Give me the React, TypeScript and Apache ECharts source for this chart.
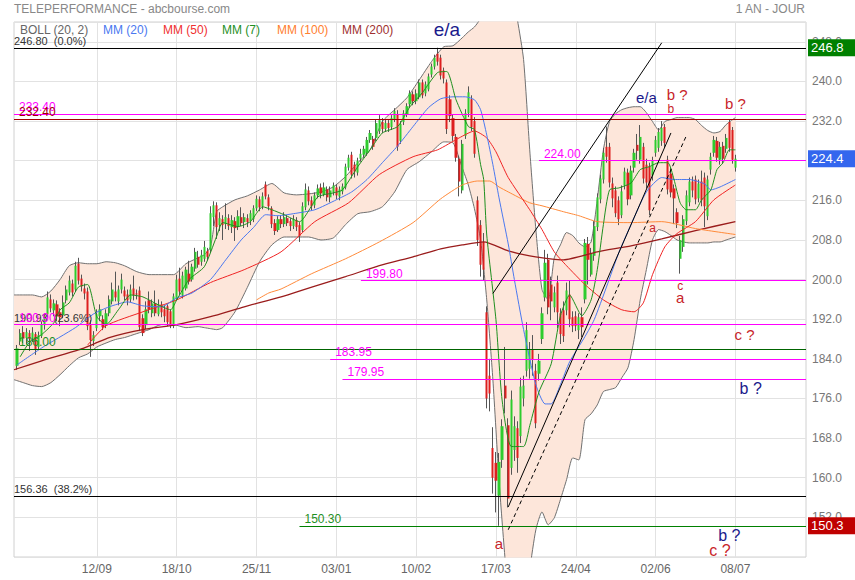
import React, { useEffect, useRef } from "react";
import * as echarts from "echarts";

// ---------- texts ----------
const TITLE = "TELEPERFORMANCE - abcbourse.com";
const PERIOD = "1 AN - JOUR";
const LEGEND: [string, string][] = [
  ["BOLL (20, 2)", "#666666"],
  ["MM (20)", "#4a78f0"],
  ["MM (50)", "#f03030"],
  ["MM (7)", "#1f8f1f"],
  ["MM (100)", "#ff8030"],
  ["MM (200)", "#a03030"],
];

// ---------- sessions (category axis) ----------
const FIRST_SESSION = [2019, 7, 6]; // 06/08/2019
const SESSION_COUNT = 259;
const HOLIDAYS = ["2019-12-25", "2019-12-26", "2020-01-01", "2020-04-10", "2020-04-13", "2020-05-01"];
const X_TICKS = ["12/09", "18/10", "25/11", "03/01", "10/02", "17/03", "24/04", "02/06", "08/07"];
const Y_MIN = 144;
const Y_MAX = 252;
const Y_STEP = 8;

// ---------- daily candles [open, close, low, high], first one on session 1 ----------
const CANDLE_START = 1;
const CANDLES: number[][] = [
  [182.6, 186.1, 181.8, 186.8], [187.5, 189.2, 186.8, 190.0], [189.4, 188.1, 187.2, 190.6], [188.2, 189.4, 186.9, 190.2], [189.2, 188.0, 185.6, 189.8],
  [188.1, 189.3, 187.4, 190.4], [189.0, 185.9, 184.8, 189.4], [186.4, 188.8, 186.0, 189.5], [188.6, 191.0, 188.2, 191.6], [190.8, 192.6, 189.9, 193.2],
  [193.0, 196.4, 192.4, 197.6], [196.0, 194.2, 193.4, 197.0], [193.8, 195.2, 192.6, 196.0], [195.0, 192.6, 191.6, 195.8], [193.4, 192.4, 190.6, 194.2],
  [192.8, 195.4, 192.2, 196.8], [195.8, 198.0, 195.2, 198.8], [197.4, 199.8, 196.8, 200.8], [199.2, 197.4, 196.6, 200.0], [198.0, 202.8, 197.6, 203.6],
  [203.2, 199.8, 199.0, 204.4], [200.2, 198.6, 197.6, 201.0], [198.2, 197.2, 196.0, 199.2], [197.6, 190.6, 189.8, 198.4], [190.8, 187.8, 184.4, 191.8],
  [187.6, 188.8, 186.6, 189.6], [190.2, 193.0, 189.6, 194.0], [192.6, 194.0, 191.6, 195.0], [192.0, 190.4, 189.8, 192.8], [190.8, 193.2, 190.2, 194.0],
  [193.2, 196.0, 192.6, 196.8], [195.6, 198.0, 195.0, 199.4], [197.6, 196.4, 195.6, 201.6], [195.6, 198.0, 194.8, 198.8], [198.0, 200.0, 197.2, 201.2],
  [197.8, 196.6, 195.8, 198.6], [197.0, 195.8, 194.8, 198.0], [196.0, 198.0, 195.4, 199.0], [198.2, 196.8, 195.8, 200.8], [197.2, 197.0, 196.0, 198.0],
  [197.8, 190.4, 189.6, 198.6], [192.2, 189.2, 188.6, 193.0], [190.8, 194.0, 190.0, 195.6], [195.8, 194.0, 193.2, 197.6], [193.2, 195.2, 192.4, 196.0],
  [195.2, 193.2, 192.6, 197.8], [193.0, 195.0, 192.6, 196.0], [195.0, 193.4, 192.4, 195.6], [194.0, 192.6, 191.4, 194.8], [194.6, 191.4, 190.6, 195.0],
  [193.6, 191.0, 190.2, 194.0], [190.6, 196.6, 190.2, 197.2], [196.2, 200.0, 195.8, 201.0], [200.2, 197.6, 196.8, 202.4], [196.8, 200.8, 196.2, 201.6],
  [198.2, 202.0, 197.8, 202.6], [201.2, 199.6, 199.0, 203.8], [200.0, 202.6, 199.6, 203.2], [202.2, 205.6, 201.6, 206.4], [204.6, 203.0, 202.4, 205.8],
  [203.6, 205.0, 202.8, 206.0], [204.2, 206.6, 203.6, 207.8], [205.8, 204.6, 203.8, 206.4], [206.0, 213.4, 205.4, 214.8], [212.6, 215.0, 210.8, 215.8],
  [215.0, 210.6, 208.2, 215.6], [211.0, 212.4, 209.8, 213.6], [212.2, 211.0, 208.0, 213.0], [211.2, 212.6, 210.2, 215.4], [212.4, 210.8, 210.0, 213.2],
  [210.6, 212.0, 209.4, 213.0], [211.8, 210.4, 207.8, 212.6], [210.6, 212.8, 210.0, 214.0], [212.6, 211.4, 210.8, 214.6], [211.6, 212.6, 210.4, 213.4],
  [212.4, 211.6, 210.6, 213.2], [211.8, 213.4, 211.0, 214.0], [212.2, 214.4, 211.6, 215.0], [214.4, 216.3, 213.8, 217.0], [216.2, 214.6, 213.8, 216.8],
  [214.8, 216.8, 214.2, 217.6], [219.2, 216.8, 216.2, 219.8], [216.6, 214.8, 214.0, 217.2], [214.4, 211.2, 210.4, 214.8], [211.4, 209.8, 209.0, 212.2],
  [210.0, 212.2, 209.6, 212.8], [212.2, 211.2, 210.4, 213.0], [211.2, 212.6, 210.6, 213.6], [212.4, 211.4, 210.8, 213.0], [211.8, 210.8, 209.8, 212.4],
  [210.8, 212.2, 210.2, 213.0], [212.0, 210.6, 209.8, 212.6], [211.0, 208.8, 207.6, 211.6], [210.0, 214.8, 209.6, 215.6], [214.6, 218.2, 214.0, 219.4],
  [218.0, 215.8, 215.0, 218.8], [216.0, 214.8, 214.0, 216.8], [215.0, 217.0, 214.4, 217.6], [217.0, 218.4, 216.4, 219.2], [218.6, 217.4, 216.4, 219.4],
  [217.2, 218.6, 216.8, 219.6], [218.2, 216.6, 215.8, 218.8], [216.6, 218.0, 215.6, 218.8], [217.6, 219.0, 217.0, 219.6], [218.6, 217.0, 216.2, 219.2],
  [216.8, 218.2, 216.0, 218.8], [217.8, 218.8, 217.2, 219.4], [218.6, 222.8, 218.2, 223.4], [222.6, 224.6, 222.0, 225.2], [225.2, 221.2, 220.4, 225.8],
  [223.2, 221.8, 220.6, 223.8], [221.6, 224.0, 221.0, 224.6], [224.4, 225.4, 223.8, 226.4], [225.2, 226.4, 224.6, 227.0], [225.6, 228.2, 225.0, 228.8],
  [228.2, 229.6, 227.6, 230.2], [228.4, 226.8, 226.2, 229.0], [228.6, 231.6, 228.0, 232.4], [230.0, 232.4, 229.4, 233.2], [231.8, 230.4, 229.6, 232.6],
  [230.4, 231.6, 229.8, 232.2], [231.6, 230.6, 229.8, 232.2], [230.8, 232.6, 230.2, 233.2], [232.4, 234.0, 231.8, 234.6], [233.4, 226.8, 226.0, 234.2],
  [228.0, 231.4, 227.4, 232.0], [231.8, 233.6, 231.2, 234.2], [233.4, 235.0, 232.8, 235.6], [235.4, 237.6, 234.8, 238.2], [237.4, 236.0, 235.2, 238.0],
  [236.0, 237.6, 235.4, 238.4], [236.8, 239.8, 236.4, 240.4], [239.8, 237.2, 236.6, 240.4], [237.6, 239.4, 237.0, 240.0], [238.4, 241.0, 238.0, 241.6],
  [241.4, 243.0, 240.8, 243.6], [243.0, 244.8, 242.4, 245.4], [245.6, 244.0, 243.2, 246.8], [244.8, 241.2, 240.4, 245.4], [242.2, 240.6, 239.6, 242.8],
  [239.8, 230.4, 229.4, 240.4], [236.4, 233.0, 231.8, 237.2], [232.6, 229.0, 228.0, 233.4], [228.8, 224.6, 223.8, 229.4], [224.4, 219.8, 216.8, 225.0],
  [218.0, 227.4, 217.4, 228.2], [229.0, 233.6, 228.4, 234.4], [233.6, 237.8, 232.8, 239.0], [236.4, 230.8, 230.0, 237.2], [232.0, 225.4, 224.6, 232.8],
  [216.0, 208.0, 206.8, 216.8], [211.0, 203.0, 200.6, 212.0], [207.6, 202.0, 199.8, 209.4], [193.4, 176.0, 174.0, 194.6], [180.6, 177.0, 173.4, 184.0],
  [166.0, 160.0, 156.8, 170.2], [163.0, 159.4, 153.0, 165.2], [156.4, 163.2, 150.3, 165.0], [163.6, 170.4, 162.0, 171.8], [178.6, 176.0, 173.0, 186.4],
  [170.6, 155.8, 154.0, 172.0], [162.0, 175.8, 160.6, 177.6], [165.6, 170.4, 163.4, 172.4], [170.0, 164.0, 161.0, 171.4], [168.4, 178.4, 167.0, 180.2],
  [176.0, 178.6, 174.4, 180.6], [181.6, 189.8, 180.4, 191.4], [182.0, 186.0, 180.0, 187.4], [186.0, 183.8, 180.6, 188.8], [181.6, 171.0, 170.0, 183.0],
  [181.0, 183.6, 179.6, 185.0], [188.0, 193.2, 187.0, 194.4], [196.4, 203.4, 195.6, 206.0], [204.0, 194.4, 193.0, 205.2], [199.0, 195.6, 191.8, 200.6],
  [194.4, 197.4, 193.4, 198.6], [199.4, 193.4, 190.2, 200.8], [193.2, 189.0, 187.0, 194.2], [193.8, 188.6, 187.4, 195.6], [193.8, 197.8, 192.8, 199.4],
  [197.0, 192.0, 190.4, 199.8], [192.4, 190.6, 189.4, 193.6], [192.6, 190.6, 189.6, 193.6], [189.8, 192.4, 188.0, 193.2], [192.4, 190.4, 188.4, 194.4],
  [196.0, 207.4, 195.2, 208.2], [207.2, 204.0, 199.0, 208.6], [201.0, 205.2, 200.6, 206.4], [204.8, 210.8, 203.8, 211.8], [210.6, 216.6, 209.8, 217.4],
  [216.2, 220.4, 215.4, 221.2], [220.2, 225.6, 219.4, 226.6], [226.8, 224.8, 223.6, 230.9], [226.8, 219.6, 218.6, 227.6], [219.4, 216.4, 214.6, 220.6],
  [218.0, 213.4, 212.6, 218.8], [216.0, 212.2, 211.0, 216.8], [213.0, 217.8, 212.4, 219.0], [219.0, 221.8, 218.2, 222.6], [221.6, 216.2, 215.0, 222.4],
  [217.0, 222.0, 216.2, 223.0], [222.6, 225.6, 221.6, 226.4], [227.2, 226.0, 224.2, 229.4], [224.2, 228.8, 223.4, 231.2], [226.8, 220.4, 219.4, 227.6],
  [223.2, 219.6, 218.4, 224.4], [222.8, 214.0, 213.0, 223.6], [221.0, 224.0, 220.0, 224.8], [225.6, 228.2, 224.8, 229.0], [226.6, 229.8, 225.8, 230.6],
  [228.0, 230.6, 227.0, 232.0], [230.8, 227.6, 226.6, 231.4], [224.2, 218.2, 217.2, 225.0], [221.4, 217.6, 216.6, 222.6], [218.4, 216.4, 211.2, 219.2],
  [213.6, 211.4, 210.4, 214.4], [204.2, 208.0, 201.2, 208.8], [206.6, 212.2, 205.6, 213.0], [211.8, 217.0, 211.0, 218.0], [215.6, 219.8, 214.8, 220.6],
  [219.8, 218.0, 216.6, 220.8], [220.2, 216.2, 215.2, 221.0], [216.4, 219.4, 215.6, 220.2], [219.8, 216.0, 214.8, 222.0], [220.6, 214.8, 210.6, 221.6],
  [212.8, 220.2, 212.0, 221.0], [222.2, 224.8, 221.2, 225.6], [225.6, 228.2, 224.8, 229.0], [228.0, 224.6, 223.8, 228.8], [224.2, 226.8, 223.2, 227.8],
  [227.0, 224.4, 223.4, 227.8], [226.4, 228.6, 225.6, 229.4], [231.8, 226.6, 225.8, 232.4], [230.2, 224.2, 223.4, 230.8], [222.6, 224.4, 221.8, 225.2],
];

// ---------- Bollinger (20, 2), read at these sessions ----------
const BOLL_AT = [0, 3, 6, 9, 12, 15, 18, 21, 24, 27, 30, 33, 36, 40, 44, 48, 52, 56, 60, 62, 64, 66, 68, 72, 76, 80, 84, 88, 92, 96,
  100, 104, 108, 112, 116, 120, 124, 128, 132, 136, 140, 143, 146, 148, 150, 152, 154, 156, 158, 160, 162, 164, 166, 168, 170, 172,
  174, 176, 178, 180, 182, 184, 186, 188, 190, 192, 194, 196, 198, 200, 202, 204, 206, 208, 210, 212, 214, 216, 218, 220, 222, 224,
  226, 228, 230, 232, 235];
const BOLL_UP = [196.9, 196.9, 196.9, 196.5, 197.7, 200.0, 202.8, 203.4, 203.2, 203.2, 203.6, 203.4, 202.8, 201.6, 201.0, 201.0, 201.0,
  203.2, 204.4, 205.0, 206.6, 213.7, 214.7, 216.1, 216.9, 218.1, 219.4, 217.5, 217.1, 217.3, 217.7, 218.7, 220.8, 223.6, 226.2, 231.9,
  234.3, 236.7, 240.3, 244.0, 247.0, 247.2, 248.8, 250.0, 251.0, 252.7, 255.5, 258.5, 260.5, 260.5, 258.5, 252.4, 244.4, 226.2, 210.1,
  198.0, 195.9, 204.4, 207.0, 209.5, 208.9, 207.4, 206.6, 207.6, 216.1, 226.2, 231.9, 233.5, 234.3, 234.7, 234.9, 234.9, 233.7, 231.9,
  230.2, 231.9, 232.3, 232.7, 232.7, 232.7, 232.3, 231.1, 230.1, 229.6, 229.9, 231.3, 232.7];
const BOLL_LOW = [179.8, 179.2, 178.6, 178.4, 179.2, 180.8, 182.6, 184.2, 185.0, 186.4, 187.2, 187.9, 188.3, 189.1, 189.9, 190.9, 190.9,
  190.3, 190.5, 190.3, 190.1, 189.9, 190.3, 193.5, 198.4, 203.6, 207.0, 208.6, 208.6, 208.6, 208.0, 208.4, 211.1, 213.3, 213.7, 214.7,
  217.7, 222.2, 223.8, 225.8, 227.8, 227.6, 222.6, 219.1, 214.3, 208.0, 195.9, 179.8, 159.6, 143.4, 131.3, 127.3, 131.3, 141.4, 149.5,
  153.1, 150.5, 151.9, 155.6, 159.6, 164.0, 163.6, 171.7, 172.9, 174.7, 177.4, 177.8, 178.2, 180.2, 182.2, 187.9, 195.9, 202.0, 208.0,
  210.1, 209.7, 208.9, 208.0, 207.6, 207.4, 207.4, 207.4, 207.4, 207.6, 207.6, 208.0, 208.6];

// ---------- moving averages [session, value] ----------
const MM7: number[][] = [[2, 184.4], [5, 187.3], [9, 188.9], [13, 191.3], [15, 193.9], [18, 195.3], [21, 198.5], [24, 199.0], [27, 192.5],
  [30, 190.9], [34, 193.9], [38, 196.9], [42, 196.5], [47, 194.9], [51, 193.9], [53, 195.9], [57, 200.0], [62, 202.6], [66, 208.7],
  [68, 211.5], [73, 210.7], [77, 211.7], [81, 214.7], [84, 214.1], [88, 213.1], [93, 211.7], [99, 216.7], [104, 217.5], [107, 218.1],
  [112, 222.8], [116, 226.2], [120, 229.6], [125, 230.9], [129, 234.9], [133, 237.7], [138, 241.8], [141, 242.0], [144, 236.3],
  [148, 230.9], [150, 230.3], [152, 223.2], [153, 220.2], [154, 209.0], [157, 191.9], [159, 175.7], [162, 166.3], [166, 166.3],
  [168, 170.5], [171, 177.3], [175, 183.0], [178, 192.7], [181, 196.9], [185, 192.7], [188, 195.9], [190, 202.0], [192, 211.1],
  [194, 218.1], [197, 218.5], [201, 219.5], [204, 222.2], [207, 222.8], [210, 223.6], [213, 223.6], [215, 220.2], [217, 215.5],
  [219, 214.1], [222, 214.1], [224, 216.1], [227, 218.1], [229, 222.2], [231, 223.6], [233, 226.2], [235, 226.2]];
const MM20: number[][] = [[1, 182.8], [9, 186.2], [20, 190.3], [26, 193.1], [31, 194.5], [37, 195.5], [42, 194.7], [48, 194.5],
  [53, 196.3], [58, 197.3], [64, 200.0], [69, 204.0], [74, 208.0], [78, 210.5], [82, 213.1], [86, 212.9], [91, 213.3], [98, 214.1],
  [105, 216.1], [110, 217.7], [115, 220.2], [120, 223.6], [125, 227.0], [130, 230.9], [135, 234.7], [139, 236.5], [143, 236.9],
  [147, 236.9], [150, 236.3], [152, 234.3], [154, 229.2], [156, 223.2], [158, 216.5], [161, 207.2], [163, 200.0], [166, 189.9],
  [170, 178.8], [173, 174.9], [175, 174.9], [178, 178.8], [181, 183.4], [186, 188.5], [189, 191.9], [193, 198.5], [197, 205.4],
  [202, 212.5], [206, 217.7], [211, 220.6], [215, 220.2], [220, 220.2], [225, 219.3], [227, 218.1], [230, 218.7], [235, 220.2]];
const MM50: number[][] = [[24, 186.8], [30, 190.7], [42, 193.5], [53, 195.9], [64, 199.4], [75, 202.0], [87, 205.6], [98, 211.7],
  [109, 215.5], [119, 221.2], [130, 224.8], [138, 226.2], [145, 228.6], [150, 230.0], [154, 228.6], [157, 225.8], [161, 220.6],
  [168, 214.1], [172, 210.1], [176, 205.6], [180, 202.8], [186, 199.0], [192, 195.9], [198, 193.9], [202, 193.5], [205, 195.3],
  [208, 201.0], [212, 206.6], [216, 209.3], [222, 211.7], [228, 216.1], [235, 219.1]];
const MM100: number[][] = [[79, 195.9], [83, 197.3], [87, 198.1], [97, 201.2], [108, 204.2], [119, 207.6], [130, 211.5], [139, 216.3],
  [146, 219.1], [151, 219.9], [155, 219.9], [158, 218.7], [161, 217.7], [168, 215.5], [172, 214.9], [179, 213.7], [184, 212.9],
  [190, 211.7], [201, 211.5], [211, 211.7], [222, 210.3], [235, 209.1]];
const MM200: number[][] = [[0, 181.8], [9, 183.6], [21, 185.8], [26, 187.0], [31, 188.3], [42, 189.9], [53, 190.9], [64, 192.5],
  [75, 194.5], [87, 196.5], [97, 198.5], [108, 200.6], [119, 202.8], [130, 204.6], [139, 206.2], [146, 207.0], [153, 207.6],
  [161, 205.8], [168, 204.8], [179, 204.0], [190, 205.6], [201, 206.8], [211, 208.2], [222, 209.9], [235, 211.7]];

// ---------- horizontal levels ----------
const LEVELS = [
  { value: 246.8, from: 0, color: "#000000", text: "246.80  (0.0%)", textColor: "#333333", fib: true },
  { value: 233.4, from: 0, color: "#ff00ff", text: "233.40", textColor: "#ff00ff", fib: false },
  { value: 232.4, from: 0, color: "#a00000", text: "232.40", textColor: "#a00000", fib: false },
  { value: 224.0, from: 171, color: "#ff00ff", text: "224.00", textColor: "#ff00ff", fib: false },
  { value: 199.8, from: 113, color: "#ff00ff", text: "199.80", textColor: "#ff00ff", fib: false },
  { value: 190.93, from: 0, color: "#000000", text: "190.93  (23.6%)", textColor: "#333333", fib: true },
  { value: 190.9, from: 0, color: "#ff00ff", text: "190.90", textColor: "#ff00ff", fib: false },
  { value: 186.0, from: 0, color: "#006400", text: "186.00", textColor: "#1f8f1f", fib: false },
  { value: 183.95, from: 103, color: "#ff00ff", text: "183.95", textColor: "#ff00ff", fib: false },
  { value: 179.95, from: 107, color: "#ff00ff", text: "179.95", textColor: "#ff00ff", fib: false },
  { value: 156.36, from: 0, color: "#000000", text: "156.36  (38.2%)", textColor: "#333333", fib: true },
  { value: 150.3, from: 93, color: "#008000", text: "150.30", textColor: "#1f8f1f", fib: false },
];

// ---------- trend lines ----------
const TRENDS = [
  { from: [156, 197.2], to: [211, 247.8], dashed: false },
  { from: [161, 154.1], to: [214, 229.6], dashed: false },
  { from: [161, 149.5], to: [219, 229.0], dashed: true },
];

// ---------- right-axis price tags ----------
const TAGS = [
  { value: 246.8, color: "#008000" },
  { value: 224.4, color: "#3366ee" },
  { value: 150.3, color: "#c00000" },
];

// ---------- Elliott wave notes ----------
const NAVY = "#1a1a8c";
const WAVE_RED = "#c8242a";
const WAVES = [
  { text: "e/a", at: 141, value: 250.4, color: NAVY, size: 19 },
  { text: "e/a", at: 206, value: 236.7, color: NAVY, size: 15 },
  { text: "b ?", at: 216, value: 237.3, color: WAVE_RED, size: 15 },
  { text: "b", at: 214, value: 234.5, color: WAVE_RED, size: 12 },
  { text: "b ?", at: 235, value: 235.5, color: WAVE_RED, size: 15 },
  { text: "a", at: 208, value: 210.5, color: WAVE_RED, size: 12 },
  { text: "c", at: 217, value: 198.8, color: WAVE_RED, size: 12 },
  { text: "a", at: 217, value: 196.3, color: WAVE_RED, size: 15 },
  { text: "c ?", at: 238, value: 188.9, color: WAVE_RED, size: 15 },
  { text: "b ?", at: 240, value: 178.0, color: NAVY, size: 16 },
  { text: "b ?", at: 233, value: 148.3, color: NAVY, size: 16 },
  { text: "c ?", at: 230, value: 145.3, color: WAVE_RED, size: 16 },
  { text: "a", at: 158, value: 146.7, color: WAVE_RED, size: 15 },
];

const FONT = '"Liberation Sans", Arial, sans-serif';

function buildSessions(): string[] {
  const out: string[] = [];
  const d = new Date(Date.UTC(FIRST_SESSION[0], FIRST_SESSION[1], FIRST_SESSION[2]));
  while (out.length < SESSION_COUNT) {
    const iso = d.toISOString().slice(0, 10);
    const wd = d.getUTCDay();
    if (wd !== 0 && wd !== 6 && HOLIDAYS.indexOf(iso) < 0) out.push(iso);
    d.setUTCDate(d.getUTCDate() + 1);
  }
  return out;
}
const ddmm = (iso: string) => iso.slice(8, 10) + "/" + iso.slice(5, 7);

export default function App() {
  const ref = useRef<HTMLDivElement>(null);

  useEffect(() => {
    if (!ref.current) return;
    const chart = echarts.init(ref.current, undefined, { renderer: "svg" });
    const sessions = buildSessions();
    const last = sessions.length - 1;
    const tickSet = new Set(X_TICKS);
    const isTick = (_i: number, v: string) => tickSet.has(ddmm(v));

    const ohlc = sessions.map((_, i) => {
      const c = CANDLES[i - CANDLE_START];
      return c ? c : "-";
    });
    const wickData = ohlc.map((c: any) => (c === "-" ? "-" : [c[0], c[1], c[2], c[3]]));
    const bodyData = ohlc.map((c: any) =>
      c === "-" ? "-" : [c[0], c[1], Math.min(c[0], c[1]), Math.max(c[0], c[1])]
    );

    const maLine = (data: number[][], color: string, width: number) => ({
      type: "line",
      data,
      symbol: "none",
      smooth: 0.2,
      silent: true,
      lineStyle: { color, width },
      z: 4,
    });

    const markData: any[] = [];
    LEVELS.forEach((l) => {
      markData.push([
        {
          coord: [l.from, l.value],
          lineStyle: { color: l.color, width: 1, type: "solid" },
          label: {
            show: true,
            position: "insideStartTop",
            formatter: l.text,
            color: l.textColor,
            fontSize: l.fib ? 11 : 12,
            fontFamily: FONT,
            distance: [l.fib ? 0 : 5, 1],
          },
        },
        { coord: [last, l.value] },
      ]);
    });
    TRENDS.forEach((t) => {
      markData.push([
        {
          coord: t.from,
          lineStyle: { color: "#000000", width: 1, type: t.dashed ? [4, 3] : "solid" },
          label: { show: false },
        },
        { coord: t.to },
      ]);
    });

    const option: any = {
      animation: false,
      textStyle: { fontFamily: FONT },
      grid: { left: 14, right: 49, top: 22, bottom: 23, show: true, borderColor: "#d0d0d0", borderWidth: 1 },
      xAxis: {
        type: "category",
        data: sessions,
        boundaryGap: false,
        axisLine: { show: false },
        axisTick: { show: false },
        axisLabel: {
          interval: isTick,
          formatter: (v: string) => ddmm(v),
          color: "#666666",
          fontSize: 12,
          margin: 6,
        },
        splitLine: { show: true, interval: isTick, lineStyle: { color: "#e2e2e2", width: 1 } },
      },
      yAxis: {
        type: "value",
        position: "right",
        min: Y_MIN,
        max: Y_MAX,
        interval: Y_STEP,
        axisLine: { show: false },
        axisTick: { show: false },
        axisLabel: {
          formatter: (v: number) => v.toFixed(1),
          color: "#777777",
          fontSize: 12,
          margin: 6,
          showMinLabel: false,
          showMaxLabel: false,
        },
        splitLine: { show: true, lineStyle: { color: "#e2e2e2", width: 1 } },
      },
      series: [
        {
          type: "line",
          data: BOLL_AT.map((s, k) => [s, BOLL_LOW[k]]),
          stack: "boll",
          symbol: "none",
          smooth: 0.2,
          silent: true,
          lineStyle: { color: "#707070", width: 1 },
          z: 1,
        },
        {
          type: "line",
          data: BOLL_AT.map((s, k) => [s, BOLL_UP[k] - BOLL_LOW[k]]),
          stack: "boll",
          symbol: "none",
          smooth: 0.2,
          silent: true,
          lineStyle: { color: "#707070", width: 1 },
          areaStyle: { color: "#fde6da", opacity: 1 },
          z: 1,
        },
        {
          type: "candlestick",
          data: wickData,
          barWidth: 0.6,
          silent: true,
          itemStyle: { color: "#555555", color0: "#555555", borderColor: "#555555", borderColor0: "#555555", borderWidth: 1 },
          z: 2,
        },
        {
          type: "candlestick",
          data: bodyData,
          barWidth: 2.7,
          silent: true,
          itemStyle: { color: "#2ecc2e", color0: "#dd1f1f", borderColor: "#2ecc2e", borderColor0: "#dd1f1f", borderWidth: 0 },
          z: 3,
        },
        maLine(MM200, "#9a1c1c", 1.3),
        maLine(MM100, "#ff8a3a", 1),
        maLine(MM50, "#f02424", 1),
        maLine(MM20, "#4a78f0", 1),
        maLine(MM7, "#1f8f1f", 1),
        {
          type: "line",
          data: [],
          silent: true,
          z: 5,
          markLine: { silent: true, symbol: ["none", "none"], animation: false, data: markData },
        },
      ],
    };
    chart.setOption(option);

    const els: any[] = [];
    const txt = (x: number, y: number, text: string, fill: string, size: number, align = "left") => ({
      type: "text",
      x,
      y,
      z: 100,
      silent: true,
      style: {
        text,
        fill,
        font: `${size}px ${FONT}`,
        textAlign: align,
        align,
        textVerticalAlign: "middle",
        verticalAlign: "middle",
      },
    });
    els.push(txt(14, 9, TITLE, "#888888", 12));
    els.push(txt(805, 9, PERIOD, "#888888", 12, "right"));
    const legendX = [20, 103, 163, 222, 277, 342];
    LEGEND.forEach(([t, c], k) => els.push(txt(legendX[k], 30, t, c, 12)));
    TAGS.forEach((t) => {
      const y = chart.convertToPixel({ yAxisIndex: 0 }, t.value) as number;
      els.push({ type: "rect", z: 99, silent: true, shape: { x: 808, y: y - 8.5, width: 47, height: 17 }, style: { fill: t.color } });
      els.push(txt(811, y, t.value.toFixed(1), "#ffffff", 13));
    });
    WAVES.forEach((w) => {
      const p = chart.convertToPixel({ gridIndex: 0 }, [w.at, w.value]) as number[];
      els.push(txt(p[0], p[1], w.text, w.color, w.size, "center"));
    });
    chart.setOption({ graphic: { elements: els } });

    return () => chart.dispose();
  }, []);

  return <div ref={ref} style={{ position: "absolute", left: 0, top: 0, width: 855, height: 580 }} />;
}
